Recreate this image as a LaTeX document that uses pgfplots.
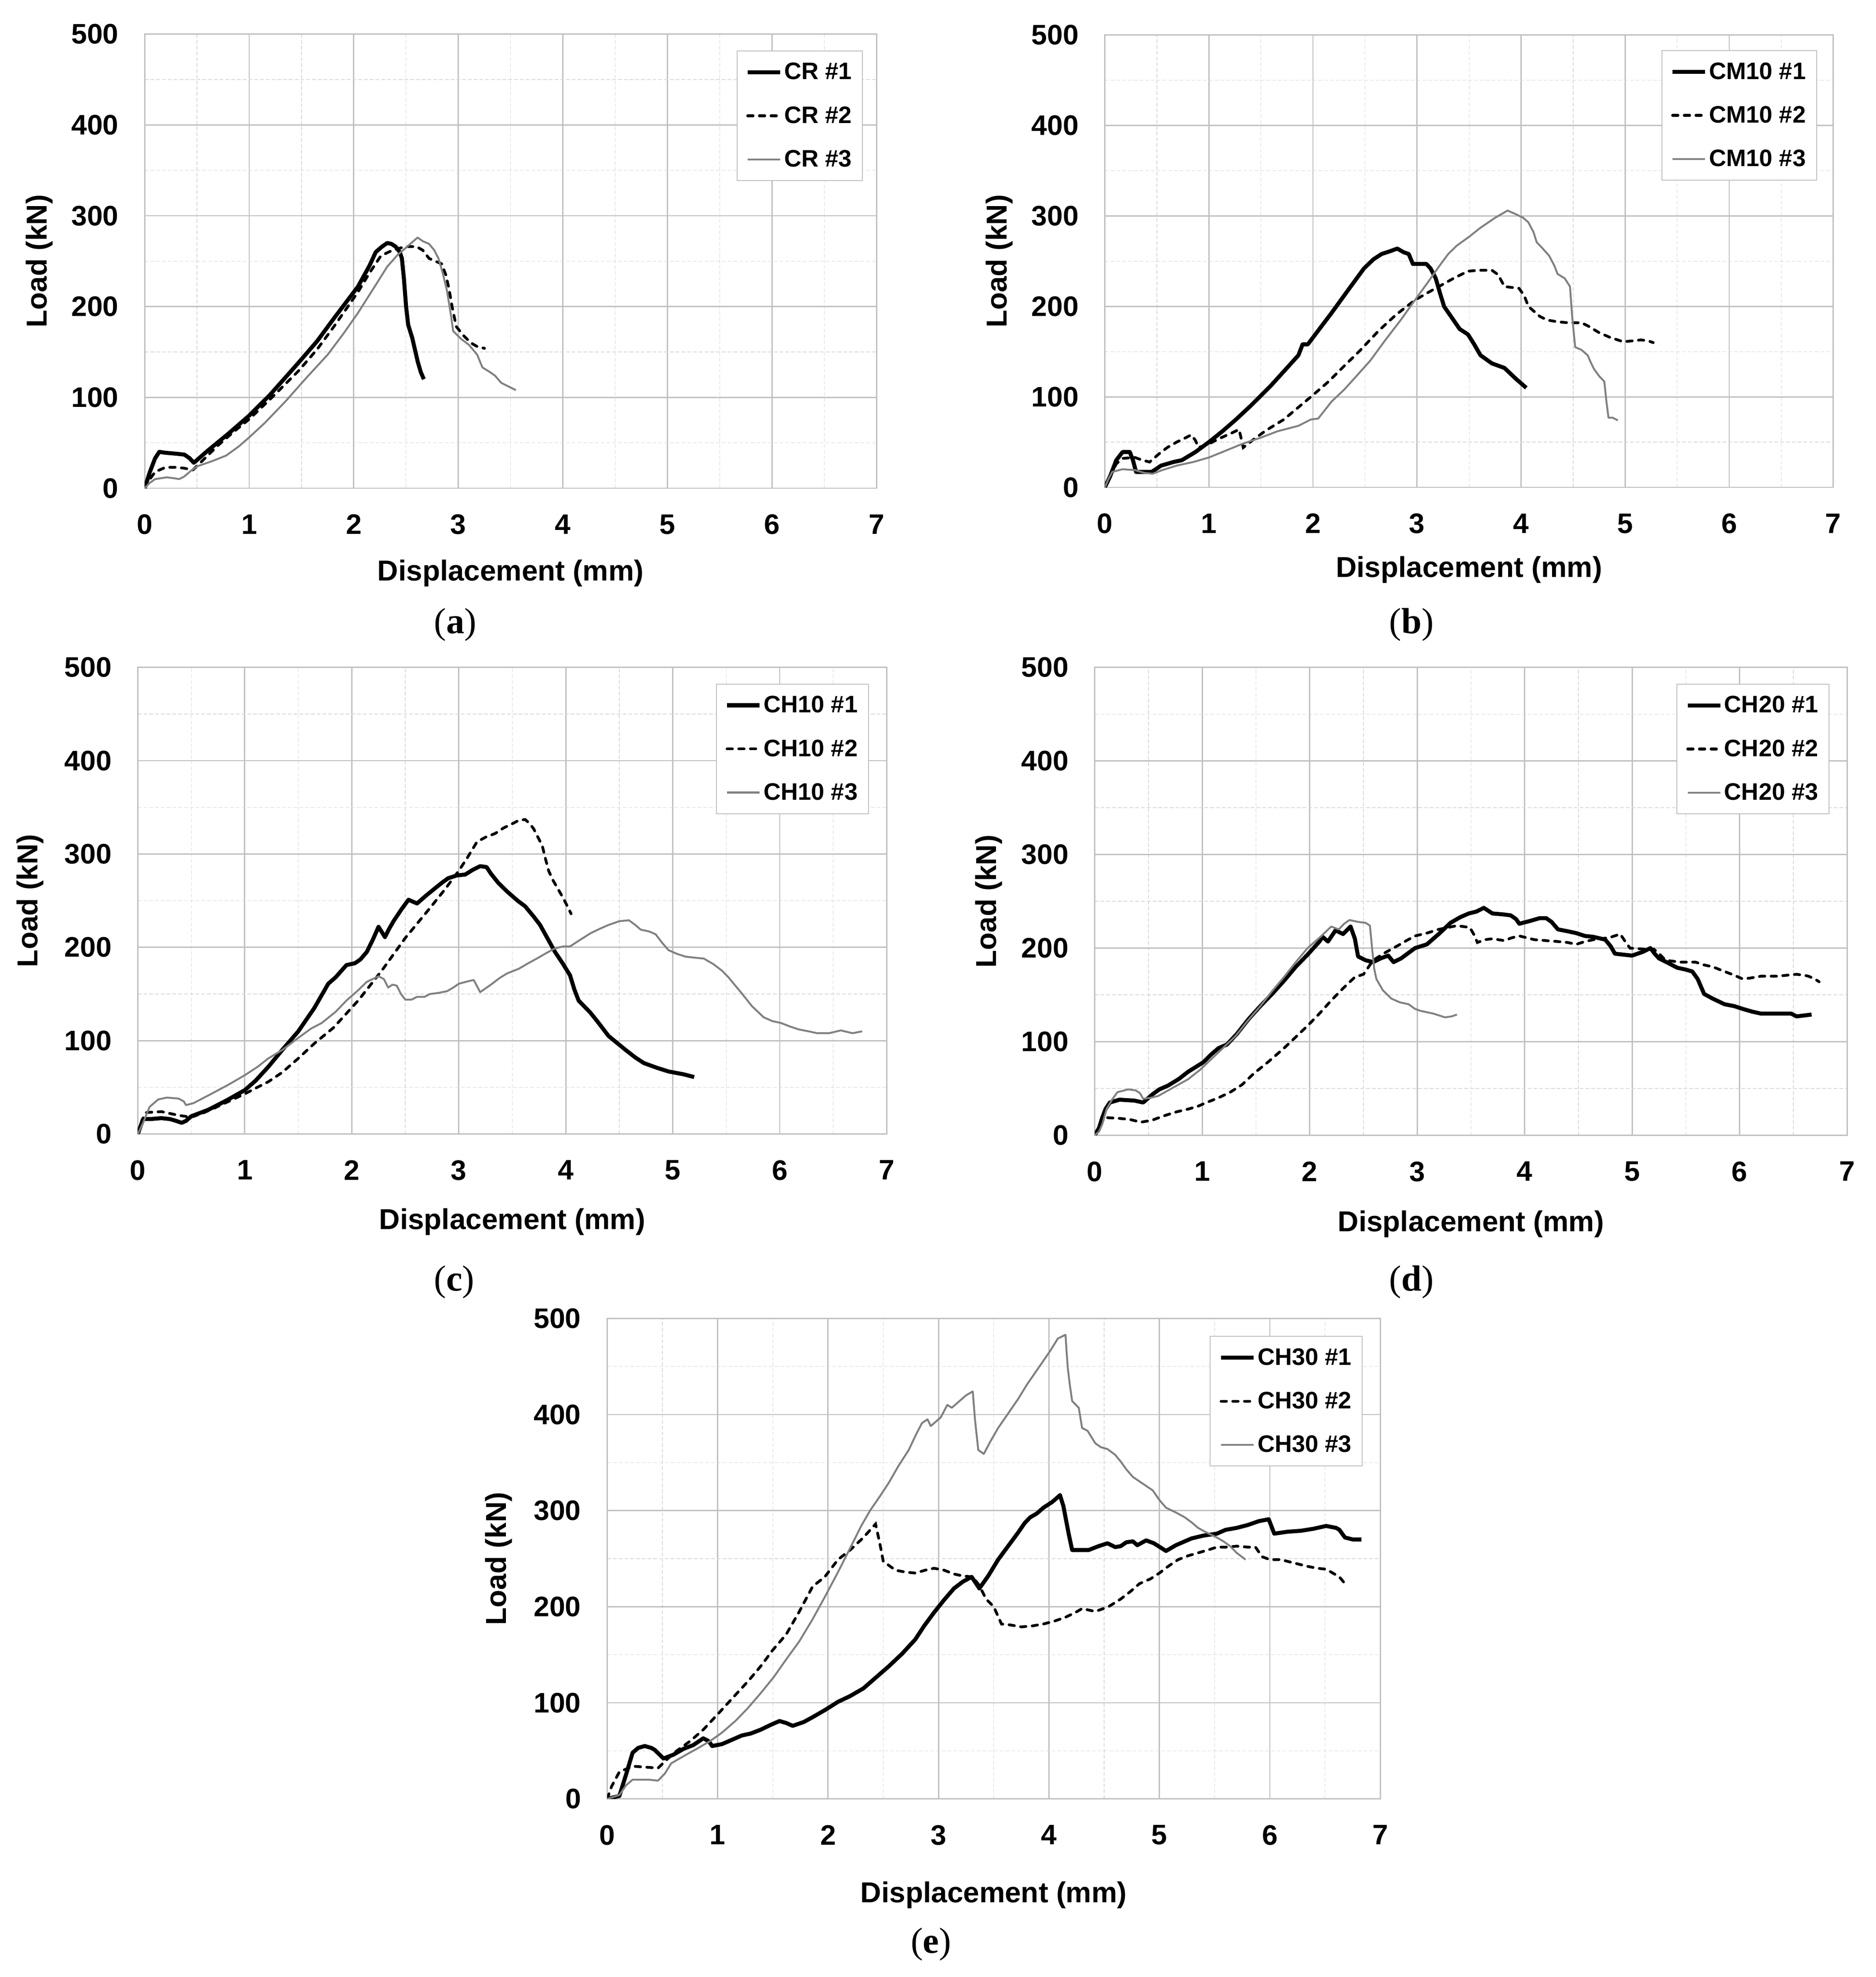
\documentclass[border=0pt]{standalone}
\usepackage{fontspec}
\setmainfont{Liberation Sans}
\newfontfamily\capfont{Liberation Serif}
\usepackage{pgfplots}
\pgfplotsset{compat=1.18}
\definecolor{gridmaj}{HTML}{BFBFBF}
\definecolor{gridmin}{HTML}{D9D9D9}
\definecolor{sgray}{HTML}{808080}
\newcommand\labfont{\bfseries\fontsize{23}{25}\selectfont}
\newcommand\subcap[1]{\capfont\fontsize{29}{31}\selectfont(\textbf{#1})}
\pgfplotsset{
  panel/.style={
    scale only axis,
    xmin=0,xmax=7,ymin=0,ymax=500,
    xtick={0,...,7}, ytick={0,100,...,500},
    minor xtick={0.5,1.5,...,6.5}, minor ytick={50,150,...,450},
    grid=both,
    major grid style={gridmaj, line width=1pt},
    minor grid style={gridmin, line width=0.45pt, dash pattern=on 3pt off 1.6pt},
    axis line style={gridmaj, line width=1pt},
    major tick length=0pt, minor tick length=0pt,
    /pgf/number format/assume math mode=true,
    ticklabel style={font=\bfseries\fontsize{22.5}{24}\selectfont, inner sep=0pt},
    xticklabel style={anchor=north, yshift=-20.8pt},
    yticklabel style={anchor=east, xshift=-20.7pt},
    xlabel={Displacement (mm)},
    ylabel={Load (kN)},
    legend cell align=left,
    legend style={draw=gridmaj, line width=0.7pt, anchor=north east,
      font=\bfseries\fontsize{19}{20}\selectfont, inner xsep=7pt, inner ysep=8pt,
      row sep=17pt, nodes={inner sep=1.5pt}},
    legend image code/.code={\draw[##1] (0pt,0pt) -- (26pt,0pt);},
  },
  ylab/.style={every axis y label/.style={at={(axis description cs:#1,0.5)},rotate=90,anchor=center,font=\labfont}},
  xlab/.style={every axis x label/.style={at={(axis description cs:0.5,#1)},anchor=center,font=\labfont}},
  s1/.style={black, line width=3.2pt, line join=round},
  s2/.style={black, line width=2.2pt, line cap=round, dash pattern=on 4.3pt off 5pt},
  s3/.style={sgray, line width=1.5pt, line join=round},
}
\begin{document}
\begin{tikzpicture}[x=1pt,y=1pt]
\useasboundingbox (0,0) rectangle (1495,1576);
% (a)
\begin{axis}[panel, at={(115.3pt,1186.8pt)}, anchor=south west, width=583.3pt, height=362pt,
  ylab=-0.144, xlab=-0.187, legend style={at={(0.9813,0.9638)}}]
\addplot[s1] coordinates {(0,0)(0.05,18)(0.1,33)(0.14,40)(0.2,39)(0.3,38)(0.38,37)(0.43,33)(0.47,28)(0.52,33)(0.61,42)(0.8,60)(1.0,80)(1.2,103)(1.47,138)(1.65,162)(1.81,187)(2.04,222)(2.15,245)(2.21,260)(2.27,266)(2.32,270)(2.36,269)(2.40,266)(2.44,260)(2.46,253)(2.48,230)(2.50,200)(2.52,180)(2.56,165)(2.61,140)(2.64,128)(2.67,120)};
\addlegendentry{CR \#1}
\addplot[s2] coordinates {(0,0)(0.05,10)(0.1,18)(0.2,23)(0.3,23)(0.38,22)(0.46,20)(0.55,30)(0.7,47)(0.85,62)(1.0,76)(1.2,98)(1.47,129)(1.65,153)(1.81,178)(2.04,216)(2.15,237)(2.26,256)(2.37,262)(2.49,266)(2.6,266)(2.66,262)(2.72,253)(2.8,249)(2.84,247)(2.88,235)(2.91,220)(2.94,200)(2.98,178)(3.05,168)(3.12,160)(3.18,156)(3.25,154)};
\addlegendentry{CR \#2}
\addplot[s3] coordinates {(0,0)(0.05,6)(0.1,10)(0.21,12)(0.28,11)(0.33,10)(0.38,13)(0.44,19)(0.5,24)(0.65,30)(0.78,36)(0.9,46)(1.0,56)(1.15,72)(1.35,96)(1.55,122)(1.75,147)(1.9,170)(2.04,193)(2.2,222)(2.32,244)(2.42,257)(2.49,264)(2.55,270)(2.61,276)(2.66,272)(2.72,269)(2.77,262)(2.81,253)(2.85,237)(2.89,218)(2.93,190)(2.95,173)(3.03,164)(3.1,158)(3.18,147)(3.23,133)(3.3,128)(3.35,124)(3.41,116)(3.48,112)(3.55,108)};
\addlegendentry{CR \#3}
\end{axis}
% (b)
\begin{axis}[panel, at={(880.5pt,1187.5pt)}, anchor=south west, width=580.5pt, height=360.5pt,
  ylab=-0.1447, xlab=-0.182, legend style={at={(0.9776,0.9667)}}]
\addplot[s1] coordinates {(0,0)(0.05,12)(0.11,30)(0.17,39)(0.24,39)(0.27,30)(0.30,17)(0.37,17)(0.45,17)(0.54,24)(0.66,28)(0.74,30)(0.87,39)(1.0,50)(1.13,62)(1.26,75)(1.4,90)(1.6,113)(1.75,132)(1.86,146)(1.90,158)(1.95,158)(2.18,193)(2.35,220)(2.49,242)(2.58,252)(2.66,258)(2.74,261)(2.81,264)(2.87,260)(2.92,258)(2.96,247)(3.09,247)(3.13,242)(3.18,231)(3.22,215)(3.26,200)(3.35,185)(3.41,175)(3.49,169)(3.55,158)(3.61,146)(3.72,137)(3.84,132)(3.95,120)(4.05,110)};
\addlegendentry{CM10 \#1}
\addplot[s2] coordinates {(0,0)(0.05,12)(0.11,26)(0.17,32)(0.29,33)(0.36,30)(0.43,28)(0.52,37)(0.6,44)(0.69,50)(0.78,55)(0.83,58)(0.87,52)(0.9,44)(1.0,48)(1.1,54)(1.2,59)(1.29,64)(1.33,44)(1.43,53)(1.55,63)(1.72,75)(2.0,102)(2.15,117)(2.29,133)(2.45,151)(2.63,173)(2.8,191)(2.98,207)(3.1,215)(3.21,222)(3.35,231)(3.49,239)(3.6,240)(3.72,240)(3.78,235)(3.84,222)(3.98,220)(4.03,212)(4.07,200)(4.18,189)(4.25,185)(4.35,183)(4.45,182)(4.58,182)(4.65,178)(4.75,171)(4.85,166)(4.98,161)(5.08,162)(5.15,163)(5.22,162)(5.27,160)};
\addlegendentry{CM10 \#2}
\addplot[s3] coordinates {(0,0)(0.03,8)(0.07,17)(0.17,20)(0.29,19)(0.38,16)(0.46,15)(0.55,19)(0.69,24)(0.85,28)(1.0,33)(1.15,40)(1.32,48)(1.5,55)(1.66,62)(1.86,68)(1.98,75)(2.05,76)(2.18,95)(2.3,108)(2.41,122)(2.55,140)(2.69,162)(2.85,186)(2.98,207)(3.1,226)(3.21,244)(3.3,258)(3.38,267)(3.5,277)(3.61,287)(3.75,298)(3.87,306)(3.95,302)(4.02,298)(4.07,293)(4.12,282)(4.15,271)(4.2,265)(4.27,256)(4.32,245)(4.35,236)(4.42,231)(4.47,222)(4.49,190)(4.52,155)(4.58,152)(4.64,146)(4.67,138)(4.70,131)(4.75,123)(4.80,117)(4.82,95)(4.84,77)(4.88,77)(4.93,74)};
\addlegendentry{CM10 \#3}
\end{axis}
% (c)
\begin{axis}[panel, at={(109.8pt,672pt)}, anchor=south west, width=596.9pt, height=372pt,
  ylab=-0.144, xlab=-0.188, legend style={at={(0.976,0.965)}}]
\addplot[s1] coordinates {(0,0)(0.05,16)(0.12,16)(0.22,17)(0.3,16)(0.36,14)(0.41,12)(0.45,14)(0.5,19)(0.66,26)(0.83,36)(1.0,47)(1.1,57)(1.22,72)(1.35,90)(1.5,110)(1.65,135)(1.78,161)(1.85,168)(1.95,181)(2.03,183)(2.08,187)(2.14,195)(2.2,209)(2.25,222)(2.31,211)(2.35,220)(2.39,228)(2.46,240)(2.53,251)(2.57,249)(2.61,247)(2.7,256)(2.84,269)(2.9,274)(2.98,277)(3.06,278)(3.13,283)(3.2,287)(3.26,286)(3.3,279)(3.37,269)(3.45,260)(3.55,250)(3.62,244)(3.7,233)(3.76,224)(3.9,195)(3.97,183)(4.04,170)(4.08,155)(4.12,143)(4.23,130)(4.3,120)(4.4,105)(4.56,90)(4.65,82)(4.73,76)(4.85,71)(4.96,67)(5.1,64)(5.2,61)};
\addlegendentry{CH10 \#1}
\addplot[s2] coordinates {(0,0)(0.04,15)(0.08,23)(0.22,24)(0.3,22)(0.38,20)(0.5,18)(0.6,22)(0.72,28)(0.85,35)(1.0,43)(1.1,49)(1.22,56)(1.35,66)(1.5,81)(1.65,97)(1.83,114)(2.06,143)(2.28,175)(2.5,210)(2.73,242)(2.87,262)(3.0,282)(3.08,296)(3.17,313)(3.25,318)(3.34,322)(3.42,328)(3.51,333)(3.56,336)(3.62,337)(3.66,333)(3.7,327)(3.74,318)(3.78,309)(3.81,295)(3.84,282)(3.88,272)(3.92,264)(3.98,252)(4.05,236)};
\addlegendentry{CH10 \#2}
\addplot[s3] coordinates {(0,0)(0.05,12)(0.11,29)(0.19,37)(0.27,39)(0.38,38)(0.43,35)(0.45,31)(0.52,33)(0.62,39)(0.72,45)(0.85,53)(1.0,63)(1.12,72)(1.22,81)(1.35,90)(1.5,103)(1.62,113)(1.72,119)(1.85,131)(1.95,143)(2.05,153)(2.14,163)(2.25,169)(2.3,166)(2.34,157)(2.38,160)(2.42,159)(2.46,150)(2.5,144)(2.56,144)(2.61,147)(2.68,147)(2.73,150)(2.8,151)(2.89,153)(2.95,157)(3.0,161)(3.1,164)(3.14,165)(3.2,152)(3.3,160)(3.38,167)(3.45,172)(3.56,177)(3.65,183)(3.73,188)(3.82,194)(3.90,199)(3.98,201)(4.04,201)(4.12,207)(4.23,215)(4.32,220)(4.40,224)(4.5,228)(4.59,229)(4.65,224)(4.70,219)(4.78,217)(4.84,214)(4.9,205)(4.96,197)(5.04,193)(5.12,190)(5.2,189)(5.29,188)(5.38,182)(5.46,175)(5.52,168)(5.57,161)(5.65,150)(5.74,137)(5.85,125)(5.93,121)(6.01,119)(6.1,115)(6.18,112)(6.27,110)(6.35,108)(6.46,108)(6.57,111)(6.68,108)(6.77,110)};
\addlegendentry{CH10 \#3}
\end{axis}
% (d)
\begin{axis}[panel, at={(872.5pt,671pt)}, anchor=south west, width=599.5pt, height=373pt,
  ylab=-0.141, xlab=-0.19, legend style={at={(0.9766,0.965)}}]
\addplot[s1] coordinates {(0,0)(0.04,8)(0.07,19)(0.1,28)(0.14,35)(0.23,38)(0.37,37)(0.45,35)(0.54,44)(0.6,49)(0.68,53)(0.78,60)(0.87,68)(1.01,78)(1.08,86)(1.15,93)(1.23,97)(1.32,108)(1.43,124)(1.54,138)(1.65,151)(1.76,165)(1.87,180)(1.98,193)(2.09,207)(2.12,212)(2.17,207)(2.24,219)(2.31,215)(2.38,223)(2.42,210)(2.45,191)(2.52,187)(2.59,185)(2.66,189)(2.73,192)(2.78,185)(2.85,189)(2.98,200)(3.09,204)(3.2,215)(3.31,227)(3.4,233)(3.48,237)(3.55,239)(3.62,243)(3.66,240)(3.70,237)(3.8,236)(3.87,235)(3.92,231)(3.95,226)(4.05,229)(4.14,232)(4.2,232)(4.25,228)(4.31,220)(4.4,218)(4.48,216)(4.56,213)(4.64,212)(4.75,209)(4.8,202)(4.84,194)(4.92,193)(5.0,192)(5.1,196)(5.17,200)(5.21,194)(5.25,189)(5.32,185)(5.42,179)(5.5,177)(5.56,175)(5.61,167)(5.67,151)(5.75,146)(5.86,140)(5.95,138)(6.03,135)(6.12,132)(6.2,130)(6.3,130)(6.42,130)(6.48,130)(6.53,127)(6.6,128)(6.67,129)};
\addlegendentry{CH20 \#1}
\addplot[s2] coordinates {(0,0)(0.04,8)(0.09,19)(0.23,18)(0.32,17)(0.43,14)(0.53,16)(0.65,21)(0.76,25)(0.87,28)(0.96,31)(1.04,35)(1.15,40)(1.26,46)(1.37,54)(1.48,66)(1.62,79)(1.76,93)(1.87,105)(1.98,117)(2.09,130)(2.2,144)(2.31,157)(2.42,169)(2.5,172)(2.59,187)(2.7,195)(2.81,202)(2.9,208)(2.98,213)(3.09,216)(3.2,220)(3.37,224)(3.49,222)(3.53,214)(3.56,206)(3.63,209)(3.70,210)(3.81,208)(3.88,211)(3.95,213)(4.09,209)(4.2,208)(4.31,207)(4.4,206)(4.48,204)(4.56,207)(4.64,209)(4.72,210)(4.81,212)(4.89,215)(4.93,208)(4.98,200)(5.1,199)(5.2,199)(5.26,193)(5.31,187)(5.45,185)(5.59,185)(5.67,182)(5.75,180)(5.86,175)(5.95,171)(6.03,167)(6.1,168)(6.2,170)(6.35,170)(6.53,172)(6.6,171)(6.64,170)(6.7,167)(6.74,164)};
\addlegendentry{CH20 \#2}
\addplot[s3] coordinates {(0,0)(0.04,4)(0.07,12)(0.11,28)(0.16,38)(0.21,46)(0.31,49)(0.38,48)(0.42,45)(0.45,39)(0.52,40)(0.59,42)(0.73,51)(0.87,60)(0.98,70)(1.09,82)(1.2,94)(1.31,106)(1.42,122)(1.54,138)(1.65,154)(1.76,169)(1.87,185)(1.98,200)(2.09,211)(2.2,223)(2.27,220)(2.32,226)(2.37,230)(2.45,228)(2.52,227)(2.56,224)(2.58,200)(2.60,178)(2.62,167)(2.68,155)(2.76,146)(2.84,142)(2.92,140)(2.98,135)(3.03,133)(3.15,130)(3.26,126)(3.32,127)(3.37,129)};
\addlegendentry{CH20 \#3}
\end{axis}
% (e)
\begin{axis}[panel, at={(483.9pt,142pt)}, anchor=south west, width=616.1pt, height=383pt,
  ylab=-0.1404, xlab=-0.2, legend style={at={(0.9774,0.9634)}}]
\addplot[s1] coordinates {(0,0)(0.11,3)(0.17,25)(0.23,48)(0.28,53)(0.34,55)(0.4,53)(0.43,51)(0.51,42)(0.6,46)(0.69,52)(0.78,56)(0.87,63)(0.92,60)(0.95,55)(1.04,57)(1.12,61)(1.22,66)(1.3,68)(1.39,72)(1.48,77)(1.56,81)(1.62,79)(1.68,76)(1.78,80)(1.86,85)(1.98,93)(2.09,101)(2.2,107)(2.32,115)(2.43,126)(2.55,138)(2.67,151)(2.79,166)(2.87,180)(2.96,194)(3.05,207)(3.14,219)(3.22,226)(3.30,231)(3.37,219)(3.45,232)(3.54,249)(3.63,263)(3.72,277)(3.78,287)(3.83,293)(3.89,297)(3.95,303)(4.03,309)(4.1,316)(4.13,305)(4.15,293)(4.18,275)(4.21,259)(4.36,259)(4.45,263)(4.53,266)(4.6,262)(4.65,263)(4.7,267)(4.76,268)(4.8,264)(4.88,269)(4.95,266)(5.06,258)(5.15,264)(5.29,271)(5.4,274)(5.52,276)(5.6,280)(5.70,282)(5.8,285)(5.9,289)(5.99,291)(6.04,276)(6.16,278)(6.28,279)(6.39,281)(6.51,284)(6.6,282)(6.63,280)(6.68,272)(6.75,270)(6.83,270)};
\addlegendentry{CH30 \#1}
\addplot[s2] coordinates {(0,0)(0.04,13)(0.11,28)(0.23,34)(0.35,33)(0.46,32)(0.55,42)(0.63,50)(0.75,60)(0.87,72)(1.0,88)(1.16,108)(1.28,123)(1.39,138)(1.5,155)(1.62,171)(1.74,195)(1.86,221)(1.97,231)(2.09,249)(2.2,259)(2.32,272)(2.43,286)(2.47,265)(2.50,247)(2.55,243)(2.61,238)(2.7,236)(2.79,235)(2.88,238)(2.96,240)(3.05,238)(3.14,234)(3.22,232)(3.31,231)(3.37,222)(3.43,208)(3.5,200)(3.57,182)(3.65,181)(3.75,179)(3.85,180)(3.95,182)(4.05,185)(4.15,189)(4.24,194)(4.30,198)(4.42,195)(4.54,200)(4.65,208)(4.74,216)(4.82,224)(4.92,229)(5.0,235)(5.08,242)(5.17,249)(5.26,253)(5.35,256)(5.44,259)(5.52,262)(5.62,262)(5.70,263)(5.8,262)(5.87,262)(5.93,252)(6.0,249)(6.1,249)(6.2,246)(6.34,242)(6.43,240)(6.51,239)(6.57,235)(6.63,231)(6.68,224)};
\addlegendentry{CH30 \#2}
\addplot[s3] coordinates {(0,0)(0.11,4)(0.17,14)(0.23,20)(0.37,20)(0.46,19)(0.52,26)(0.58,37)(0.7,45)(0.81,52)(0.93,60)(1.04,69)(1.16,81)(1.27,94)(1.39,110)(1.51,127)(1.62,145)(1.74,164)(1.86,187)(1.97,210)(2.09,236)(2.2,261)(2.3,284)(2.38,300)(2.47,315)(2.55,329)(2.64,347)(2.73,363)(2.8,380)(2.85,391)(2.9,395)(2.93,388)(2.97,392)(3.02,397)(3.08,410)(3.12,407)(3.19,414)(3.25,420)(3.31,424)(3.33,395)(3.36,363)(3.41,359)(3.47,372)(3.54,386)(3.63,401)(3.72,416)(3.8,431)(3.89,446)(3.95,456)(4.01,466)(4.08,479)(4.15,483)(4.16,465)(4.17,449)(4.19,430)(4.21,414)(4.27,407)(4.30,386)(4.35,383)(4.42,370)(4.47,366)(4.53,364)(4.6,358)(4.65,351)(4.7,343)(4.76,335)(4.85,328)(4.94,321)(5.0,311)(5.06,303)(5.15,298)(5.23,293)(5.3,287)(5.35,282)(5.43,277)(5.52,272)(5.58,268)(5.64,263)(5.7,256)(5.78,249)};
\addlegendentry{CH30 \#3}
\end{axis}
\node at (362.8,1078) {\subcap{a}};
\node at (1125,1078) {\subcap{b}};
\node at (362,554) {\subcap{c}};
\node at (1125,554) {\subcap{d}};
\node at (742,26) {\subcap{e}};
\end{tikzpicture}
\end{document}
